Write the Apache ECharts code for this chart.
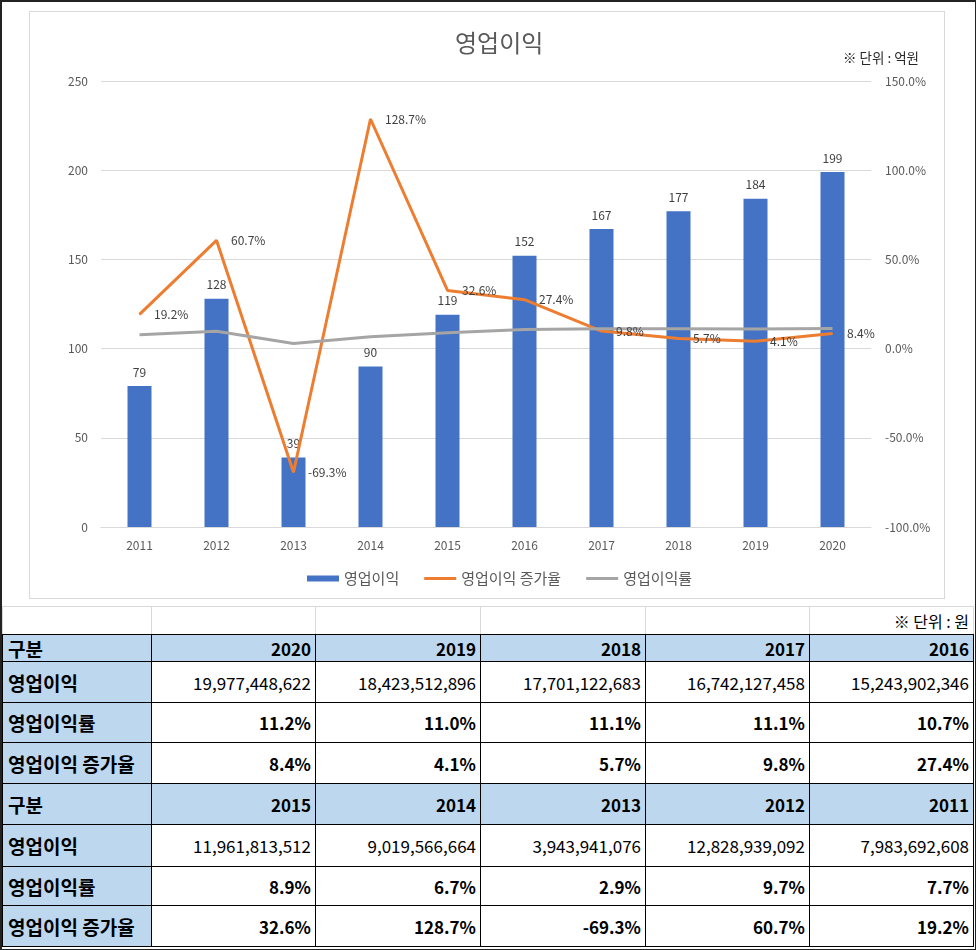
<!DOCTYPE html>
<html>
<head>
<meta charset="utf-8">
<script src="https://cdn.jsdelivr.net/npm/echarts@6/dist/echarts.min.js"></script>
<style>
  html, body { margin: 0; padding: 0; background: #fff; }
  body { width: 976px; height: 950px; position: relative; overflow: hidden; font-family: "Noto Sans CJK KR", "Noto Sans", sans-serif; }
  #chartBox { position: absolute; left: 29px; top: 11px; width: 916px; height: 588px; box-sizing: border-box; border: 1px solid #d9d9d9; }
  #chart { width: 914px; height: 586px; }
  .cell { position: absolute; box-sizing: border-box; display: flex; align-items: center; font-size: 17px; color: #000; white-space: nowrap; }
  #frame { position: absolute; left: 0; top: 0; width: 976px; height: 950px; box-sizing: border-box; border-left: 2px solid #222; border-top: 2px solid #222; border-right: 1px solid #222; border-bottom: 1px solid #222; pointer-events: none; }
</style>
</head>
<body>
<div id="chartBox"><div id="chart"></div></div>
<div id="table"></div>
<div id="frame"></div>
<script>
// ---- data ----
const years = ['2011', '2012', '2013', '2014', '2015', '2016', '2017', '2018', '2019', '2020'];
const profitEok = [79, 128, 39, 90, 119, 152, 167, 177, 184, 199];
const growthRate = [19.2, 60.7, -69.3, 128.7, 32.6, 27.4, 9.8, 5.7, 4.1, 8.4];
const marginRate = [7.7, 9.7, 2.9, 6.7, 8.9, 10.7, 11.1, 11.1, 11.0, 11.2];
const profitWon = [7983692608, 12828939092, 3943941076, 9019566664, 11961813512, 15243902346, 16742127458, 17701122683, 18423512896, 19977448622];
const leftTicks = [0, 50, 100, 150, 200, 250];
const rightTicks = [-100, -50, 0, 50, 100, 150];
const seriesNames = ['영업이익', '영업이익 증가율', '영업이익률'];
const rowLabels = ['구분', '영업이익', '영업이익률', '영업이익 증가율'];
const chartTitle = '영업이익';
const chartUnit = '※ 단위 : 억원';
const tableUnit = '※ 단위 : 원';

// ---- chart ----
const FONT = '"Noto Sans CJK KR", "Noto Sans", sans-serif';
const lineIcon = 'path://M0,0H32V3H0Z';
const chart = echarts.init(document.getElementById('chart'), null, { renderer: 'canvas' });
chart.setOption({
  animation: false,
  textStyle: { fontFamily: FONT },
  title: [
    { text: chartTitle, left: 420, top: 14, textStyle: { fontSize: 24, fontWeight: 'normal', color: '#595959', fontFamily: FONT } },
    { text: chartUnit, left: 808, top: 34, textStyle: { fontSize: 13.5, fontWeight: 'normal', color: '#262626', fontFamily: FONT } }
  ],
  legend: {
    left: 272, top: 554, itemWidth: 32, itemHeight: 6, itemGap: 25,
    textStyle: { fontSize: 15, color: '#595959', fontFamily: FONT },
    data: [{ name: seriesNames[0], icon: 'rect' }, { name: seriesNames[1], icon: lineIcon }, { name: seriesNames[2], icon: lineIcon }]
  },
  grid: { left: 71, right: 73, top: 69, bottom: 71 },
  xAxis: {
    type: 'category', data: years,
    axisLine: { show: true, lineStyle: { color: '#d9d9d9', width: 1 } },
    axisTick: { show: false },
    axisLabel: { color: '#595959', fontSize: 12, margin: 12, fontFamily: FONT }
  },
  yAxis: [
    {
      type: 'value', min: leftTicks[0], max: leftTicks[leftTicks.length - 1], interval: 50,
      axisLine: { show: false }, axisTick: { show: false },
      axisLabel: { color: '#595959', fontSize: 12, margin: 13, fontFamily: FONT },
      splitLine: { show: true, lineStyle: { color: '#d9d9d9', width: 1 } }
    },
    {
      type: 'value', position: 'right', min: rightTicks[0], max: rightTicks[rightTicks.length - 1], interval: 50,
      axisLine: { show: false }, axisTick: { show: false },
      axisLabel: { color: '#595959', fontSize: 12, margin: 14, fontFamily: FONT, formatter: v => v.toFixed(1) + '%' },
      splitLine: { show: false }
    }
  ],
  series: [
    {
      name: seriesNames[0], type: 'bar', data: profitEok, barWidth: 24, yAxisIndex: 0,
      itemStyle: { color: '#4472C4' },
      label: { show: true, position: 'top', distance: 8, color: '#404040', fontSize: 12, fontFamily: FONT }
    },
    {
      name: seriesNames[1], type: 'line', data: growthRate, yAxisIndex: 1,
      symbol: 'circle', symbolSize: 1, showSymbol: true,
      lineStyle: { color: '#ED7D31', width: 3 }, itemStyle: { color: '#ED7D31' },
      labelLayout: { hideOverlap: false },
      label: { show: true, position: 'right', distance: 14, color: '#404040', fontSize: 12, fontFamily: FONT, formatter: p => p.value.toFixed(1) + '%' }
    },
    {
      name: seriesNames[2], type: 'line', data: marginRate, yAxisIndex: 1, symbol: 'none',
      lineStyle: { color: '#A5A5A5', width: 3 }, itemStyle: { color: '#A5A5A5' }
    }
  ]
});

// ---- table ----
const tbl = document.getElementById('table');
const colX = [2, 151, 315, 480, 645, 809, 973];
function cell(x1, y1, x2, y2, text, o) {
  const d = document.createElement('div');
  d.className = 'cell';
  d.style.left = x1 + 'px';
  d.style.top = y1 + 'px';
  d.style.width = (x2 - x1 + 1) + 'px';
  d.style.height = (y2 - y1 + 1) + 'px';
  d.style.border = '1px solid ' + (o.border || '#000');
  if (o.noBottom) d.style.borderBottom = 'none';
  if (o.bg) d.style.background = o.bg;
  d.style.justifyContent = o.align === 'left' ? 'flex-start' : 'flex-end';
  d.style.padding = o.align === 'left' ? '0 0 0 5px' : '0 4px 0 0';
  if (o.bold) d.style.fontWeight = 'bold';
  if (o.size) d.style.fontSize = o.size + 'px';
  d.textContent = text;
  tbl.appendChild(d);
}
// unit row (light spreadsheet gridlines)
for (let c = 0; c < 6; c++) {
  cell(colX[c], 606, colX[c + 1], 634, c === 5 ? tableUnit : '', { border: '#d9d9d9', noBottom: true, size: 16 });
}
const BLUE = '#BDD7EE';
const LBL = { bg: BLUE, bold: true, align: 'left', size: 19 };
function block(rowsY, idxs) {
  cell(colX[0], rowsY[0], colX[1], rowsY[1], rowLabels[0], LBL);
  idxs.forEach((i, c) => cell(colX[c + 1], rowsY[0], colX[c + 2], rowsY[1], years[i], { bg: BLUE, bold: true }));
  cell(colX[0], rowsY[1], colX[1], rowsY[2], rowLabels[1], LBL);
  idxs.forEach((i, c) => cell(colX[c + 1], rowsY[1], colX[c + 2], rowsY[2], profitWon[i].toLocaleString('en-US'), {}));
  cell(colX[0], rowsY[2], colX[1], rowsY[3], rowLabels[2], LBL);
  idxs.forEach((i, c) => cell(colX[c + 1], rowsY[2], colX[c + 2], rowsY[3], marginRate[i].toFixed(1) + '%', { bold: true }));
  cell(colX[0], rowsY[3], colX[1], rowsY[4], rowLabels[3], LBL);
  idxs.forEach((i, c) => cell(colX[c + 1], rowsY[3], colX[c + 2], rowsY[4], growthRate[i].toFixed(1) + '%', { bold: true }));
}
block([634, 661, 702, 742, 783], [9, 8, 7, 6, 5]);
block([783, 824, 866, 905, 946], [4, 3, 2, 1, 0]);
</script>
</body>
</html>
